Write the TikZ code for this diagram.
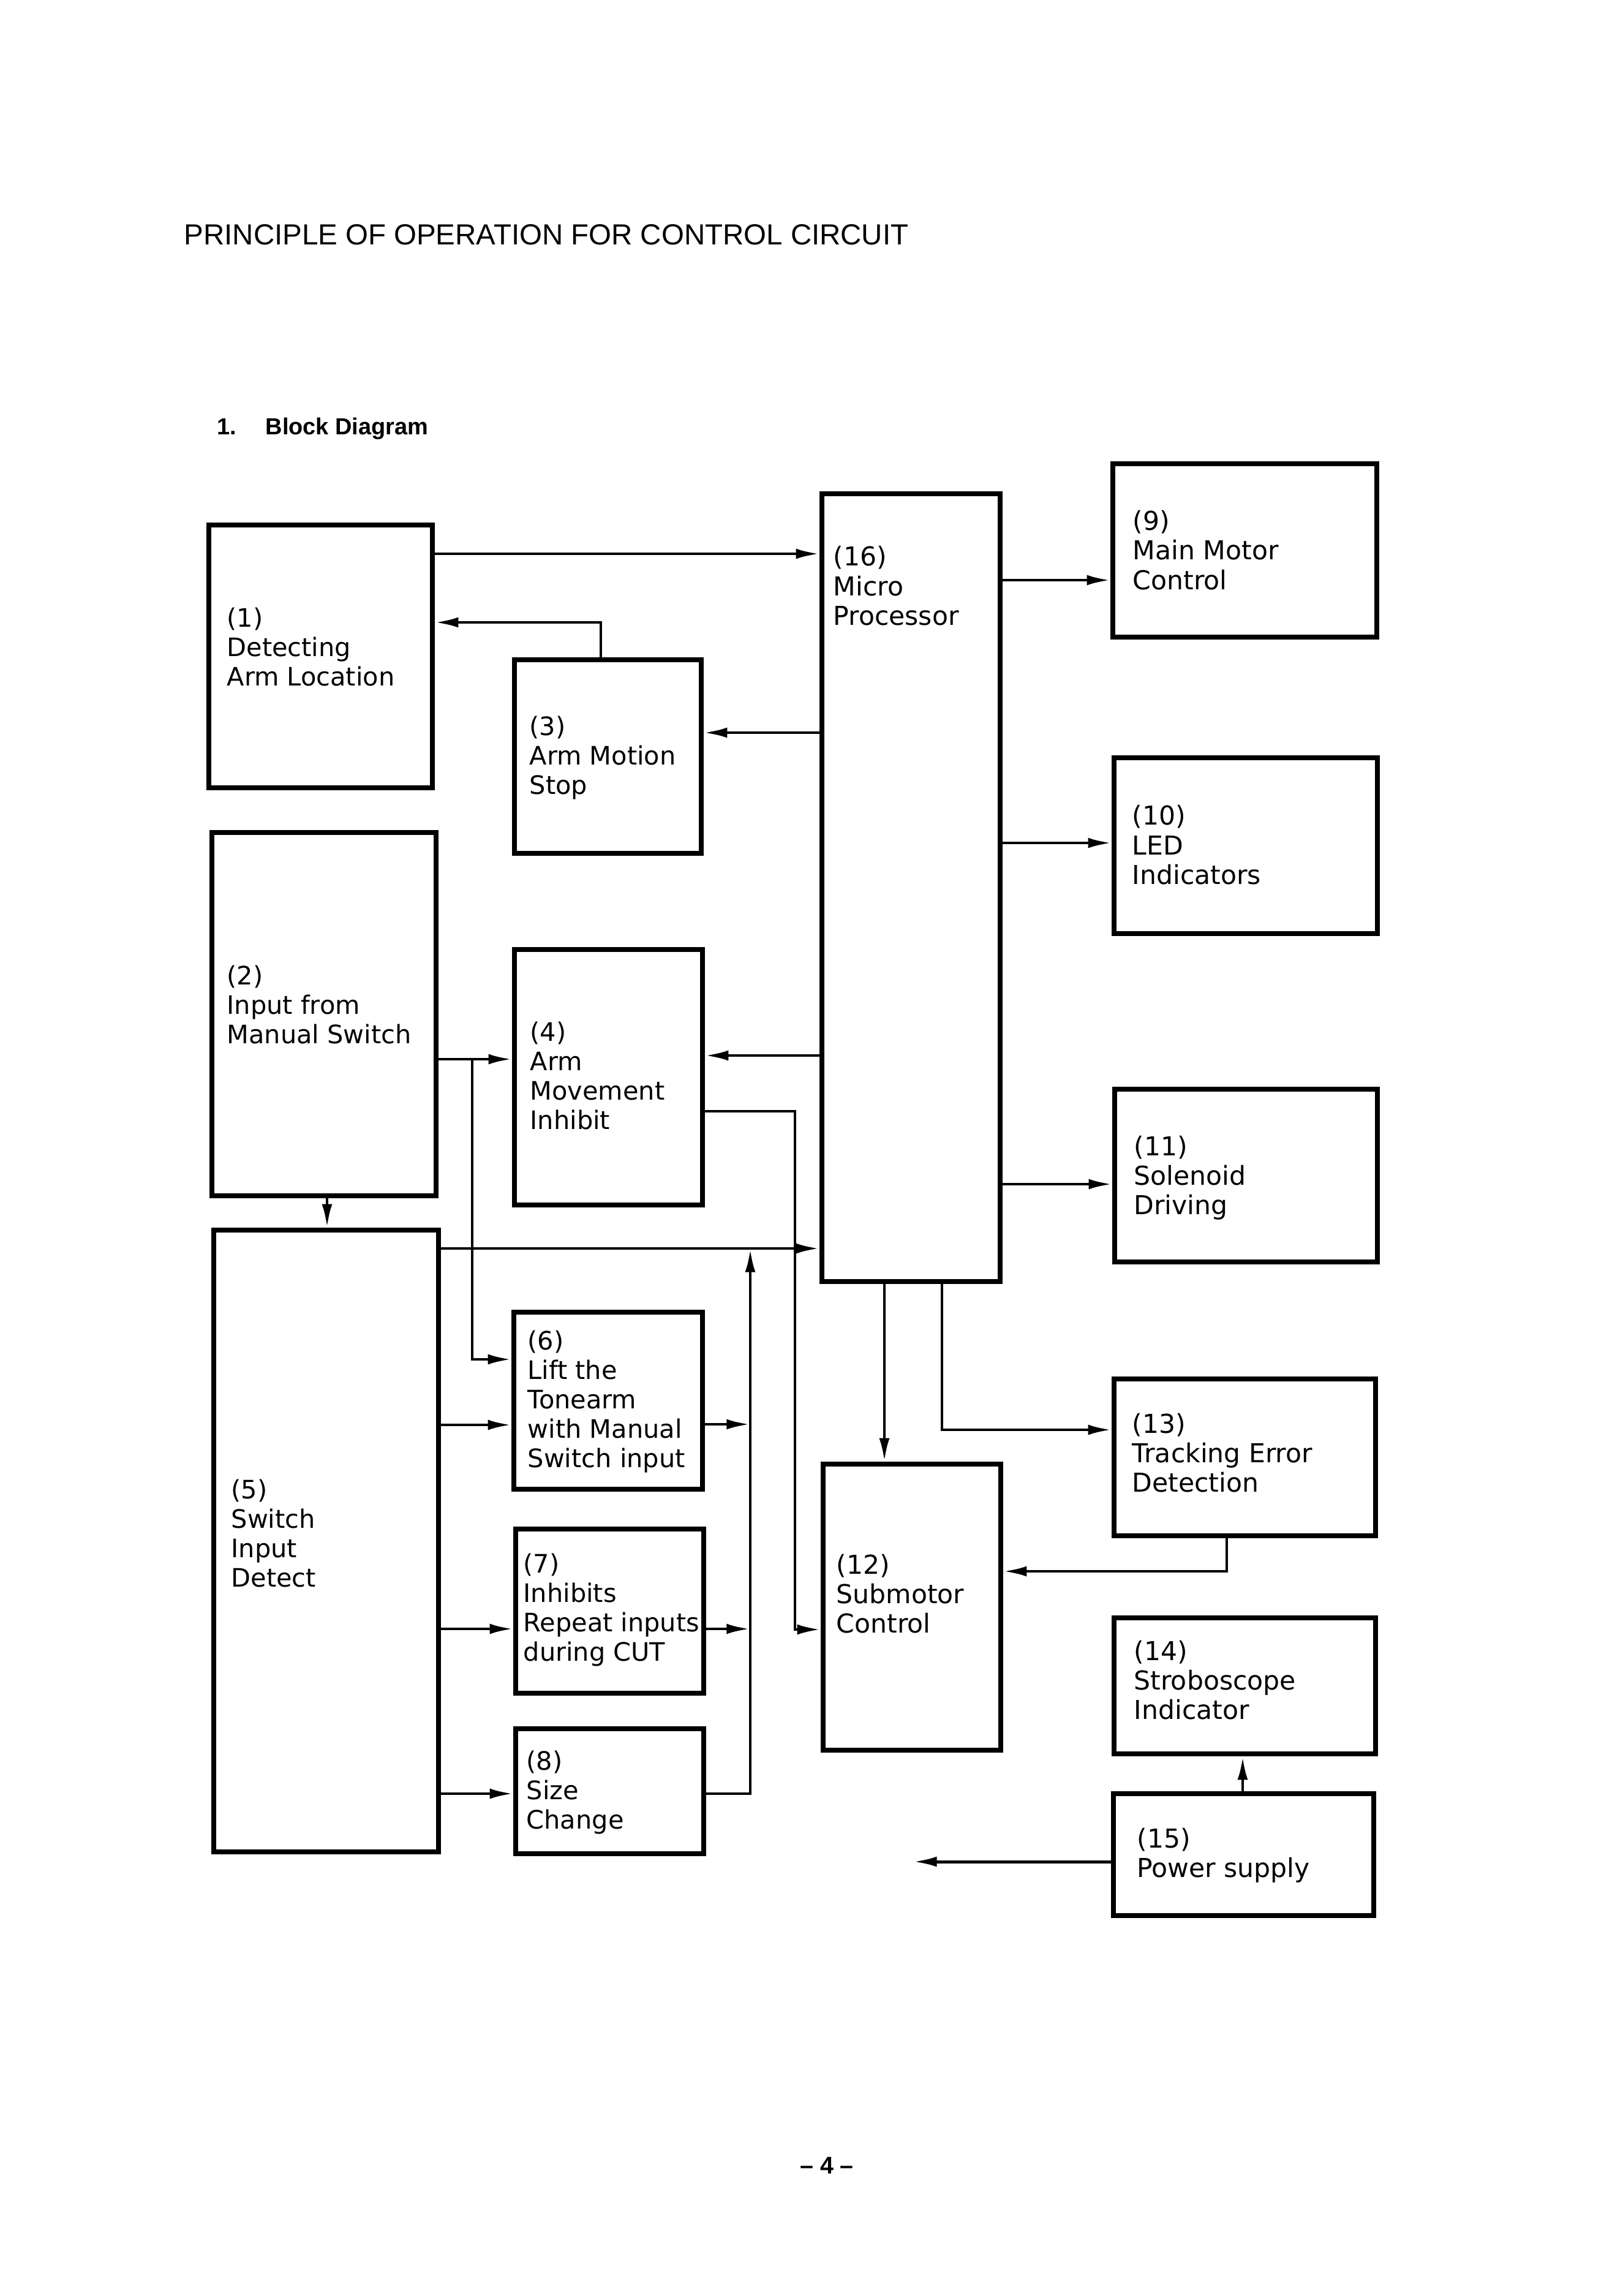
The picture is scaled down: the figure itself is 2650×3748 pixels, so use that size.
\documentclass[tikz,border=0pt]{standalone}
\usepackage{fontspec}
\newfontfamily\dvs{DejaVu Sans}
\newfontfamily\lib{Liberation Sans}
\usetikzlibrary{fit,arrows.meta}
\begin{document}
\begin{tikzpicture}[x=0.1mm,y=-0.1mm,
  box/.style={draw,line width=2.1pt,inner sep=0pt,rectangle},
  arr/.style={line width=1.4pt,-{Latex[length=11pt,width=4.8pt]}},
  lbl/.style={anchor=north west,inner sep=0pt,align=left,font=\dvs\fontsize{11.8}{13.66}\selectfont},
  rlbl/.style={anchor=north west,inner sep=0pt,align=left,font=\dvs\fontsize{12.1}{13.66}\selectfont}]
\useasboundingbox[fill=white] (0,0) rectangle (2650,3748);

% titles
\node[anchor=base west,inner sep=0pt,font=\lib\fontsize{13.5}{16}\selectfont] (title) at (300,399) {PRINCIPLE OF OPERATION FOR CONTROL CIRCUIT};
\node[anchor=base west,inner sep=0pt,font=\lib\bfseries\fontsize{10.8}{13}\selectfont] (secnum) at (354,709) {1.};
\node[anchor=base west,inner sep=0pt,font=\lib\bfseries\fontsize{10.8}{13}\selectfont] (sec) at (433,709) {Block Diagram};
\node[anchor=base,inner sep=0pt,font=\lib\bfseries\fontsize{11.2}{13}\selectfont] (page) at (1350,3548) {– 4 –};

% boxes
\node[box,fit={(341,857) (706,1286)}] (b1) {};
\node[box,fit={(346,1359) (712,1952)}] (b2) {};
\node[box,fit={(840,1077) (1145,1393)}] (b3) {};
\node[box,fit={(840,1550) (1147,1967)}] (b4) {};
\node[box,fit={(349,2008) (716,3023)}] (b5) {};
\node[box,fit={(839,2142) (1147,2431)}] (b6) {};
\node[box,fit={(842,2496) (1149,2764)}] (b7) {};
\node[box,fit={(842,2822) (1149,3026)}] (b8) {};
\node[box,fit={(1342,806) (1633,2092)}] (b16) {};
\node[box,fit={(1817,757) (2248,1040)}] (b9) {};
\node[box,fit={(1819,1237) (2249,1524)}] (b10) {};
\node[box,fit={(1820,1778) (2249,2060)}] (b11) {};
\node[box,fit={(1344,2390) (1634,2857)}] (b12) {};
\node[box,fit={(1819,2251) (2246,2507)}] (b13) {};
\node[box,fit={(1819,2641) (2246,2863)}] (b14) {};
\node[box,fit={(1818,2928) (2243,3127)}] (b15) {};

% labels
\node[lbl] (t1) at (370,991) {(1)\\Detecting\\Arm Location};
\node[lbl] (t2) at (370,1575) {(2)\\Input from\\Manual Switch};
\node[lbl] (t3) at (864,1168) {(3)\\Arm Motion\\Stop};
\node[lbl] (t4) at (865,1667) {(4)\\Arm\\Movement\\Inhibit};
\node[lbl] (t5) at (377,2414) {(5)\\Switch\\Input\\Detect};
\node[lbl] (t6) at (861,2171) {(6)\\Lift the\\Tonearm\\with Manual\\Switch input};
\node[lbl] (t7) at (854,2535) {(7)\\Inhibits\\Repeat inputs\\during CUT};
\node[lbl] (t8) at (859,2857) {(8)\\Size\\Change};
\node[rlbl] (t16) at (1360,891) {(16)\\Micro\\Processor};
\node[rlbl] (t9) at (1849,833) {(9)\\Main Motor\\Control};
\node[rlbl] (t10) at (1848,1314) {(10)\\LED\\Indicators};
\node[rlbl] (t11) at (1851,1853) {(11)\\Solenoid\\Driving};
\node[rlbl] (t12) at (1365,2536) {(12)\\Submotor\\Control};
\node[rlbl] (t13) at (1848,2306) {(13)\\Tracking Error\\Detection};
\node[rlbl] (t14) at (1851,2677) {(14)\\Stroboscope\\Indicator};
\node[rlbl] (t15) at (1856,2983) {(15)\\Power supply};

% helper coordinates
\coordinate (j1) at (771,1729);
\coordinate (bus) at (1225,2038);
\coordinate (pend) at (1491,3039);

% connectors
\draw[arr] (b1.east |- 0,904) -- (b16.west |- 0,904);
\draw[arr] (b3.north -| 981,0) |- (b1.east |- 0,1016);
\draw[arr] (b16.west |- 0,1196) -- (b3.east |- 0,1196);
\draw[arr] (b16.east |- 0,947) -- (b9.west |- 0,947);
\draw[arr] (b16.east |- 0,1376) -- (b10.west |- 0,1376);
\draw[arr] (b16.east |- 0,1933) -- (b11.west |- 0,1933);
\draw[arr] (b16.west |- 0,1723) -- (b4.east |- 0,1723);
\draw[arr] (b2.east |- j1) -- (b4.west |- j1);
\draw[arr] (j1) |- (b6.west |- 0,2219);
\draw[arr] (b2.south -| 534,0) -- (b5.north -| 534,0);
\draw[arr] (b5.east |- bus) -- (b16.west |- bus);
\draw[arr] (b5.east |- 0,2326) -- (b6.west |- 0,2326);
\draw[arr] (b5.east |- 0,2659) -- (b7.west |- 0,2659);
\draw[arr] (b5.east |- 0,2928) -- (b8.west |- 0,2928);
\draw[arr] (b6.east |- 0,2325) -- (bus |- 0,2325);
\draw[arr] (b7.east |- 0,2659) -- (bus |- 0,2659);
\draw[arr] (b8.east |- 0,2928) -| (bus);
\draw[arr] (b4.east |- 0,1814) -| (1298,2660) -- (b12.west |- 0,2660);
\draw[arr] (b16.south -| 1444,0) -- (b12.north -| 1444,0);
\draw[arr] (b16.south -| 1538,0) |- (b13.west |- 0,2334);
\draw[arr] (b13.south -| 2003,0) |- (b12.east |- 0,2565);
\draw[arr] (b15.north -| 2029,0) -- (b14.south -| 2029,0);
\draw[arr] (b15.west |- pend) -- (pend);
\end{tikzpicture}
\end{document}
